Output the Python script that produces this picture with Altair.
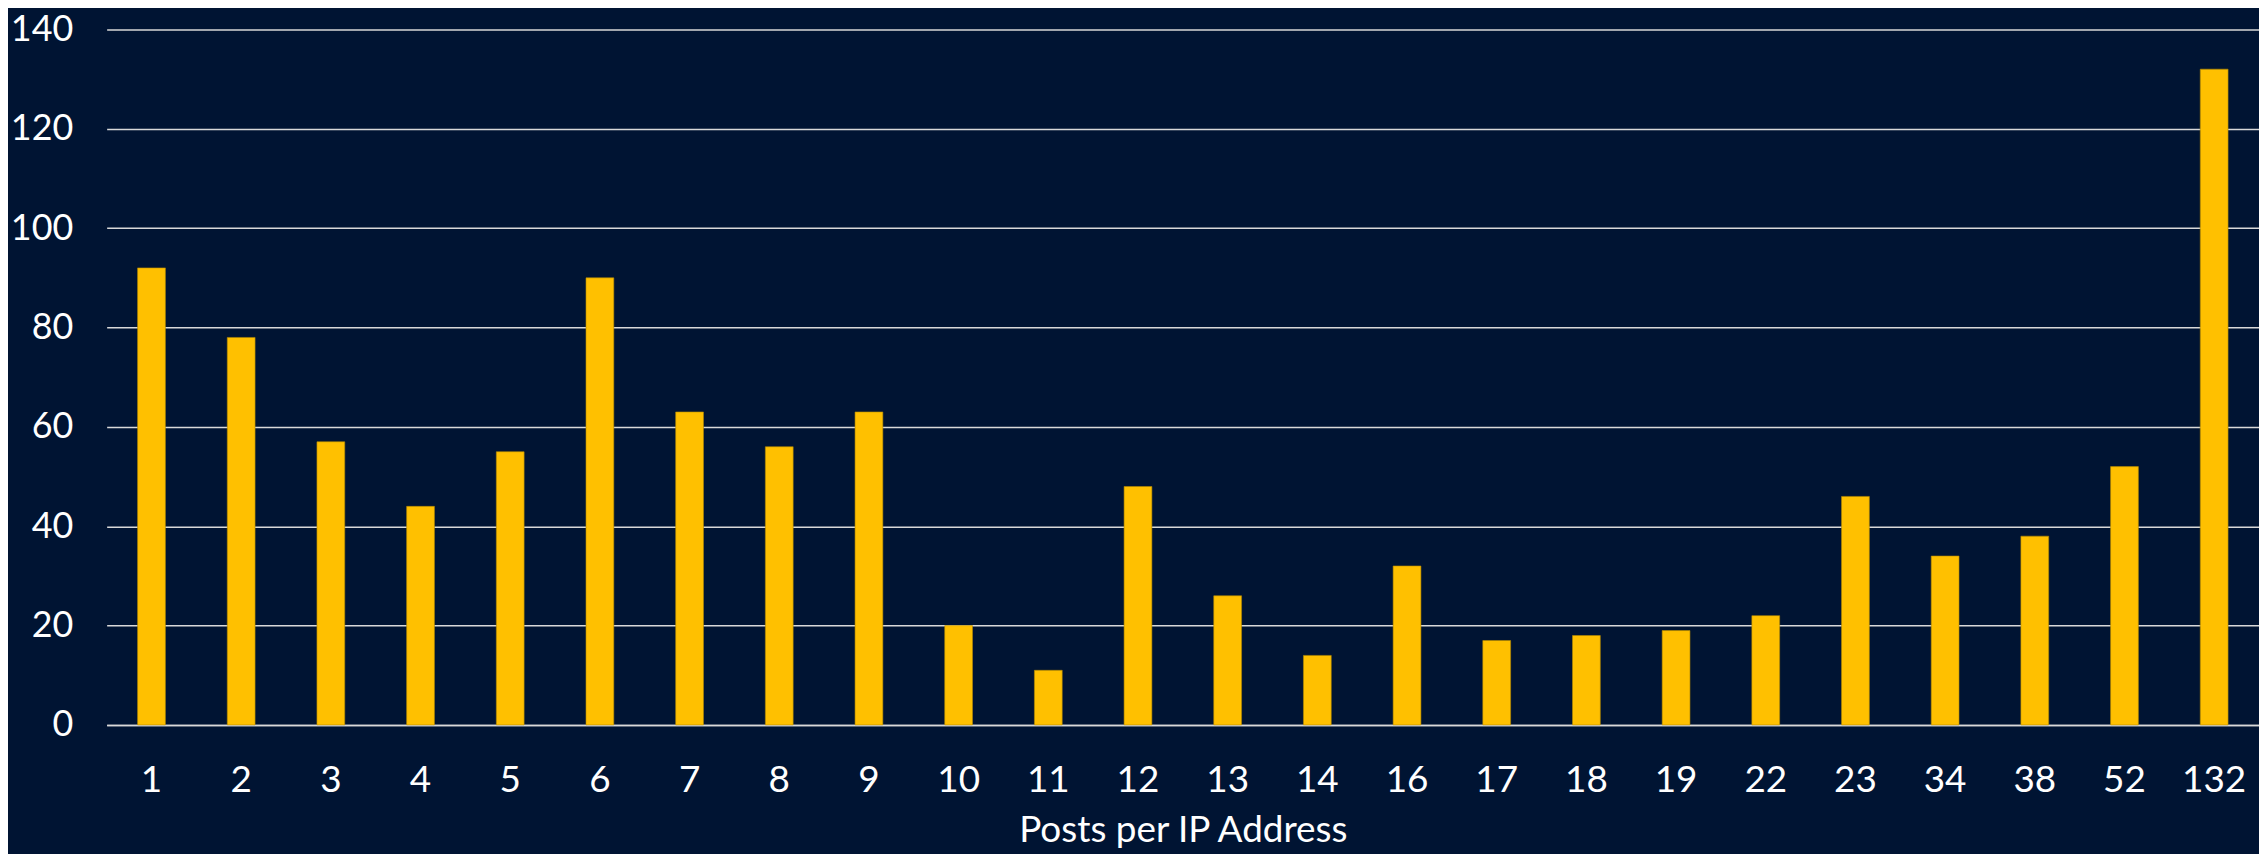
import altair as alt
import pandas as pd

categories = ["1", "2", "3", "4", "5", "6", "7", "8", "9", "10", "11", "12",
              "13", "14", "16", "17", "18", "19", "22", "23", "34", "38", "52", "132"]
counts = [92, 78, 57, 44, 55, 90, 63, 56, 63, 20, 11, 48,
          26, 14, 32, 17, 18, 19, 22, 46, 34, 38, 52, 132]
y_ticks = [0, 20, 40, 60, 80, 100, 120, 140]

df = pd.DataFrame({"posts": categories, "count": counts})

FONT = "Lato"
FS = 37
GRID = "#D9D9D9"

chart = alt.Chart(df).mark_bar(color="#FFC000", stroke="#B38A00", strokeWidth=0.6).encode(
    x=alt.X("posts:N", sort=categories, title="Posts per IP Address",
            scale=alt.Scale(paddingInner=0.69, paddingOuter=0.345),
            axis=alt.Axis(labelAngle=0, labelFont=FONT, labelFontSize=FS, labelColor="white",
                          labelBaseline="middle", labelPadding=56, ticks=False, tickSize=0,
                          domain=True, domainColor=GRID, domainWidth=1.5,
                          titleFont=FONT, titleFontSize=FS, titleColor="white",
                          titleFontWeight="normal", titleBaseline="middle", titleY=106)),
    y=alt.Y("count:Q", scale=alt.Scale(domain=[0, 140]),
            axis=alt.Axis(values=y_ticks, title=None, ticks=False, tickSize=0, domain=False,
                          grid=True, gridColor=GRID, gridWidth=1.5,
                          labelFont=FONT, labelFontSize=FS - 1, labelColor="white",
                          labelPadding=34)),
).properties(
    width=2160, height=698, background="#001433",
    padding={"left": 99, "top": 20, "right": 0, "bottom": 128},
    autosize=alt.AutoSizeParams(type="none"),
).configure_view(stroke=None)

chart.save("out.html", embed_options={"renderer": "svg", "actions": False})
